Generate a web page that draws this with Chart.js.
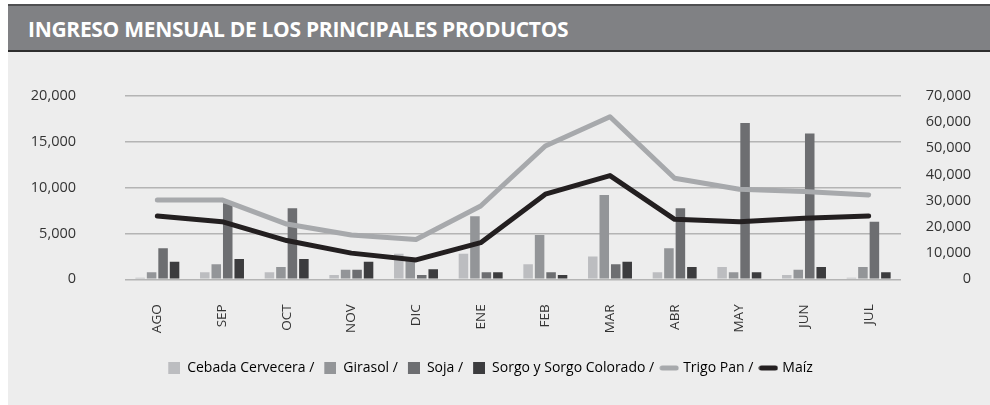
<!DOCTYPE html>
<html>
<head>
<meta charset="utf-8">
<script src="https://cdn.jsdelivr.net/npm/chart.js@4.4.1/dist/chart.umd.min.js"></script>
<style>
  html, body { margin: 0; padding: 0; background: #ffffff; }
  #panel { position: absolute; left: 8px; top: 4px; width: 982px; height: 401px; background: #ededed; }
  #header {
    position: absolute; left: 0; top: 0; width: 982px; height: 44px;
    background: #808184; border-top: 2px solid #4f4f51; border-bottom: 2px solid #2e2e2e;
  }
  #header h1 {
    margin: 0; position: absolute; left: 20px; top: 9px;
    font-family: "Open Sans", sans-serif; font-weight: 700; font-size: 21px;
    letter-spacing: -0.3px; color: #ffffff;
  }
  #wrap { position: absolute; left: 0; top: 48px; width: 982px; height: 353px; }
</style>
</head>
<body>
<div id="panel">
  <div id="header"><h1>INGRESO MENSUAL DE LOS PRINCIPALES PRODUCTOS</h1></div>
  <div id="wrap"><canvas id="grafico" width="982" height="353"></canvas></div>
</div>
<script>
// datos
const meses = ["AGO", "SEP", "OCT", "NOV", "DIC", "ENE", "FEB", "MAR", "ABR", "MAY", "JUN", "JUL"];

const cebada = [175, 760, 760, 470, 2800, 2800, 1640, 2500, 760, 1340, 470, 175];
const girasol = [760, 1640, 1340, 1050, 2200, 6870, 4830, 9200, 3380, 760, 1050, 1340];
const soja = [3380, 8300, 7750, 1050, 470, 760, 760, 1640, 7750, 17050, 15900, 6280];
const sorgo = [1920, 2220, 2220, 1920, 1090, 760, 470, 1920, 1340, 760, 1340, 760];

const trigoPan = [30300, 30300, 21100, 16900, 15200, 28000, 50900, 62100, 38600, 34400, 33500, 32200];
const maiz = [24200, 22000, 14800, 10000, 7400, 14000, 32500, 39600, 22900, 22000, 23300, 24200];

const ticksIzq = [0, 5000, 10000, 15000, 20000];
const ticksDer = [0, 10000, 20000, 30000, 40000, 50000, 60000, 70000];

const colores = {
  cebada: "#bcbdc0",
  girasol: "#939598",
  soja: "#6d6e71",
  sorgo: "#3c3c3e",
  trigo: "#a7a9ac",
  maiz: "#231f20"
};

// iconos de la leyenda
function iconoCuadro(color) {
  const c = document.createElement("canvas");
  c.width = 14; c.height = 12;
  const ctx = c.getContext("2d");
  ctx.fillStyle = color;
  ctx.fillRect(2, 0, 12, 12);
  return c;
}

function iconoLinea(color) {
  const c = document.createElement("canvas");
  c.width = 20; c.height = 6;
  const ctx = c.getContext("2d");
  ctx.strokeStyle = color;
  ctx.lineWidth = 5;
  ctx.lineCap = "round";
  ctx.beginPath();
  ctx.moveTo(3, 3);
  ctx.lineTo(17, 3);
  ctx.stroke();
  return c;
}

const fmt = v => Number(v).toLocaleString("en-US");

function barra(label, data, color) {
  return {
    type: "bar", label: label, data: data, yAxisID: "y",
    backgroundColor: color, order: 2,
    categoryPercentage: 0.71, barPercentage: 0.83,
    icono: iconoCuadro(color)
  };
}

function linea(label, data, color) {
  return {
    type: "line", label: label, data: data, yAxisID: "y1",
    borderColor: color, backgroundColor: color, borderWidth: 5,
    pointRadius: 0, tension: 0, order: 1,
    borderCapStyle: "round", borderJoinStyle: "round",
    icono: iconoLinea(color)
  };
}

new Chart(document.getElementById("grafico"), {
  data: {
    labels: meses,
    datasets: [
      barra("Cebada Cervecera", cebada, colores.cebada),
      barra("Girasol", girasol, colores.girasol),
      barra("Soja", soja, colores.soja),
      barra("Sorgo y Sorgo Colorado", sorgo, colores.sorgo),
      linea("Trigo Pan", trigoPan, colores.trigo),
      linea("Maíz", maiz, colores.maiz)
    ]
  },
  options: {
    responsive: false,
    animation: false,
    layout: { padding: { top: 44, bottom: 20, right: 19 } },
    plugins: {
      tooltip: { enabled: false },
      legend: {
        position: "bottom",
        labels: {
          usePointStyle: true,
          pointStyleWidth: 14,
          padding: 8,
          color: "#333333",
          font: { family: "Open Sans", size: 14 },
          generateLabels: chart => chart.data.datasets.map((ds, i) => ({
            text: i < chart.data.datasets.length - 1 ? ds.label + " /" : ds.label,
            pointStyle: ds.icono,
            fillStyle: ds.backgroundColor,
            strokeStyle: "transparent",
            lineWidth: 0,
            datasetIndex: i
          }))
        }
      }
    },
    scales: {
      x: {
        grid: { display: false },
        border: { display: false },
        ticks: {
          autoSkip: false, minRotation: 90, maxRotation: 90, padding: 17,
          color: "#333333", font: { family: "Open Sans", size: 13.5 }
        },
        afterFit: s => { s.height = 73.7; }
      },
      y: {
        position: "left", min: 0, max: 20000,
        afterBuildTicks: s => { s.ticks = ticksIzq.map(v => ({ value: v })); },
        // marca invisible para separar las etiquetas del area
        grid: { color: "#b4b4b4", lineWidth: 1.5, tickLength: 49, tickColor: "transparent" },
        border: { display: false },
        ticks: {
          padding: 0, color: "#333333", callback: fmt,
          font: { family: "Open Sans", size: 14.5 }
        },
        afterFit: s => { s.width = 117; }
      },
      y1: {
        position: "right", min: 0, max: 70000,
        afterBuildTicks: s => { s.ticks = ticksDer.map(v => ({ value: v })); },
        grid: { display: false, drawTicks: false },
        border: { display: false },
        ticks: {
          padding: 4, crossAlign: "far", color: "#333333", callback: fmt,
          font: { family: "Open Sans", size: 14.5 }
        },
        afterFit: s => { s.width = 70; }
      }
    }
  }
});
</script>
</body>
</html>
